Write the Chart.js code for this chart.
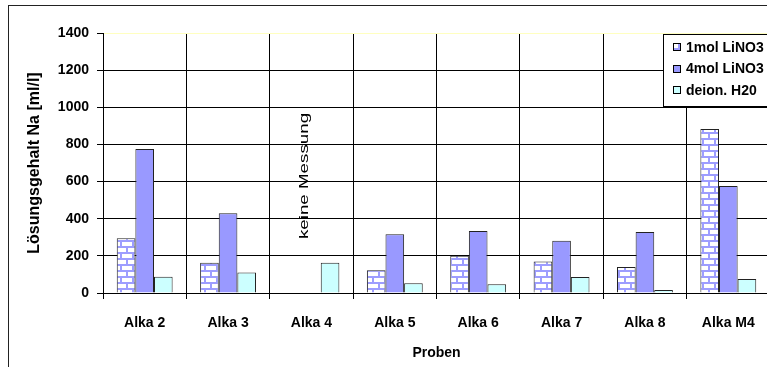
<!DOCTYPE html>
<html><head><meta charset="utf-8">
<script src="https://cdn.jsdelivr.net/npm/chart.js@4"></script>
<style>html,body{margin:0;padding:0;overflow:hidden;background:#fff}</style>
</head><body>
<canvas id="c" width="780" height="367"></canvas>
<script>
// ---- data ----
const categories = ['Alka 2','Alka 3','Alka 4','Alka 5','Alka 6','Alka 7','Alka 8','Alka M4'];
const seriesNames = ['1mol LiNO3','4mol LiNO3','deion. H20'];
const mol1Values = [295, 163, null, 122, 201, 169, 140, 883];
const mol4Values = [775, 429, null, 316, 334, 282, 328, 576];
const h2oValues  = [88, 111, 163, 52, 47, 86, 16, 75];
const yMin = 0, yMax = 1400, yStep = 200;
const yTitle = 'Lösungsgehalt Na [ml/l]';
const xTitle = 'Proben';
const noteText = 'keine Messung';
const noteCategory = 2;   // Alka 4
const noteValue = 630;

const FONT = "'Liberation Sans', Arial, sans-serif";

// brick pattern
function brickPattern() {
  const p = document.createElement('canvas');
  p.width = 12; p.height = 12;
  const g = p.getContext('2d');
  g.fillStyle = '#FFFFFF'; g.fillRect(0,0,12,12);
  g.fillStyle = '#9D9DFF';
  g.fillRect(0,0,12,2);
  g.fillRect(0,6,12,2);
  g.fillRect(0,0,2,6);
  g.fillRect(6,6,2,6);
  return document.getElementById('c').getContext('2d').createPattern(p,'repeat');
}
const brick = brickPattern();
const fills = [brick, '#9999FF', '#CCFFFF'];

const framePlugin = {
  id: 'frame',
  beforeDraw(chart) {
    const ctx = chart.ctx;
    ctx.save();
    ctx.fillStyle = '#fff';
    ctx.fillRect(0,0,chart.width,chart.height);
    ctx.strokeStyle = '#222';
    ctx.lineWidth = 1;
    ctx.strokeRect(8.5, 5.5, 900, 500);
    ctx.restore();
  },
  afterDraw(chart) {
    const ctx = chart.ctx;
    const xs = chart.scales.x, ys = chart.scales.y;
    // note text
    ctx.save();
    ctx.translate(xs.getPixelForValue(noteCategory) - 7, ys.getPixelForValue(noteValue));
    ctx.rotate(-Math.PI/2);
    ctx.scale(1.5, 1);
    ctx.font = '12.5px ' + FONT;
    ctx.fillStyle = '#000';
    ctx.textAlign = 'center';
    ctx.textBaseline = 'middle';
    ctx.fillText(noteText, 0, 0);
    ctx.restore();
    // legend
    ctx.save();
    const lx = 663.5, ly = 34.5, lw = 120, lh = 72;
    ctx.fillStyle = '#fff';
    ctx.fillRect(lx, ly, lw, lh);
    ctx.strokeStyle = '#000';
    ctx.lineWidth = 1;
    ctx.strokeRect(lx, ly, lw, lh);
    ctx.font = 'bold 14px ' + FONT;
    ctx.textBaseline = 'middle';
    chart.data.datasets.forEach((ds, i) => {
      const cy = 47 + i*21.5;
      ctx.fillStyle = ds.backgroundColor;
      ctx.fillRect(673, Math.round(cy) - 4, 8, 8);
      ctx.strokeStyle = '#000';
      ctx.strokeRect(673.5, Math.round(cy) - 3.5, 7, 7);
      ctx.fillStyle = '#000';
      ctx.fillText(ds.label, 686, cy + 1);
    });
    ctx.restore();
  }
};

new Chart(document.getElementById('c'), {
  type: 'bar',
  data: {
    labels: categories,
    datasets: [
      { label: seriesNames[0], data: mol1Values, backgroundColor: fills[0], borderColor: '#222', borderWidth: 1 },
      { label: seriesNames[1], data: mol4Values, backgroundColor: fills[1], borderColor: '#222', borderWidth: 1 },
      { label: seriesNames[2], data: h2oValues,  backgroundColor: fills[2], borderColor: '#222', borderWidth: 1 }
    ]
  },
  options: {
    responsive: false,
    animation: false,
    layout: { padding: { top: 33, right: 10, left: 0, bottom: 0 } },
    plugins: { legend: { display: false }, tooltip: { enabled: false } },
    datasets: { bar: { categoryPercentage: 0.67, barPercentage: 1.0 } },
    scales: {
      x: {
        afterFit(s) { s.height = 74; },
        grid: { color: '#000', lineWidth: 1, offset: true, tickLength: 6, tickColor: '#000' },
        border: { display: true, color: '#000', width: 1 },
        ticks: { color: '#000', font: { family: FONT, size: 14, weight: 'bold' }, padding: 16, maxRotation: 0 },
        title: { display: true, text: xTitle, color: '#000', font: { family: FONT, size: 14, weight: 'bold' }, padding: { top: 0, bottom: 5 } }
      },
      y: {
        min: yMin, max: yMax,
        afterFit(s) { s.width = 103; },
        grid: {
          color: (c) => (c.tick && c.tick.value === yMax) ? '#FFFFC0' : '#000',
          lineWidth: 1, tickLength: 6, tickColor: '#000'
        },
        border: { display: true, color: '#000', width: 1 },
        ticks: { stepSize: yStep, color: '#000', font: { family: FONT, size: 14, weight: 'bold' }, padding: 8,
                 callback: (v) => String(v) },
        title: { display: true, text: yTitle, color: '#000', font: { family: FONT, size: 16, weight: 'bold' }, padding: { top: 25, bottom: 0 } }
      }
    }
  },
  plugins: [framePlugin]
});
</script>
</body></html>
